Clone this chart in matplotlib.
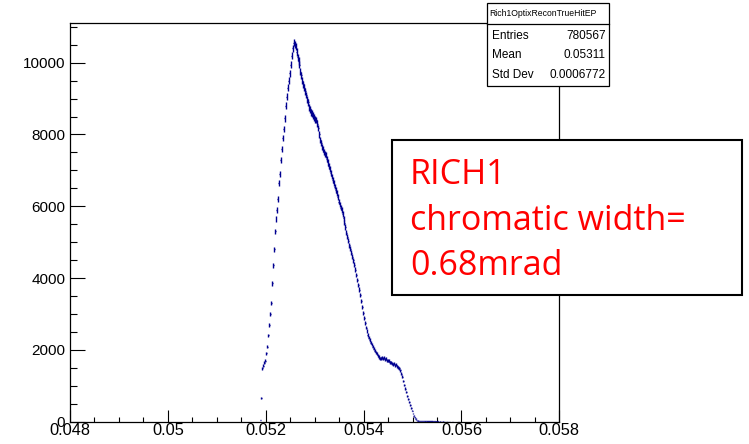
import numpy as np
import matplotlib
matplotlib.use("Agg")
import matplotlib.pyplot as plt
from matplotlib.ticker import MultipleLocator, FuncFormatter
from matplotlib.patches import Rectangle

plt.rcParams['font.family'] = ['Liberation Sans', 'DejaVu Sans']

# Histogram definition: 500 bins over the reconstructed Cherenkov angle range
x_min, x_max, n_bins = 0.048, 0.058, 500
first_bin = 194
counts = [
    40, 650, 1480, 1560, 1640, 1700, 1900, 2090, 2400, 2700,
    3000, 3300, 3850, 4350, 4800, 5300, 5650, 5900, 6200, 6650,
    6900, 7300, 7600, 7900, 8150, 8450, 8800, 9050, 9300, 9500,
    9700, 9950, 10200, 10400, 10560, 10500, 10450, 10300, 10150, 10050,
    9950, 9750, 9650, 9500, 9400, 9300, 9200, 9100, 8980, 8900,
    8760, 8700, 8620, 8580, 8530, 8480, 8420, 8400, 8300, 8180,
    8000, 7850, 7760, 7650, 7590, 7520, 7460, 7420, 7320, 7220,
    7130, 7030, 6930, 6830, 6730, 6640, 6550, 6450, 6360, 6250,
    6130, 6050, 5960, 5890, 5790, 5660, 5540, 5420, 5260, 5150,
    5040, 4920, 4810, 4700, 4600, 4500, 4370, 4230, 4080, 3950,
    3800, 3680, 3520, 3360, 3190, 3030, 2890, 2750, 2620, 2520,
    2420, 2340, 2270, 2200, 2150, 2090, 2030, 1980, 1930, 1900,
    1850, 1800, 1770, 1760, 1790, 1750, 1780, 1740, 1760, 1710,
    1700, 1690, 1660, 1650, 1640, 1620, 1600, 1610, 1570, 1580,
    1540, 1510, 1480, 1430, 1340, 1250, 1130, 1010, 920, 820,
    720, 640, 550, 460, 380, 300, 220, 160, 120, 80,
    50, 30, 15, 12, 9, 8, 7, 6, 5, 6,
    4, 5, 4, 3, 4, 3, 3, 2, 3, 2,
    2, 3, 2, 1, 2, 1, 1, 2, 1, 0,
    1, 1, 0, 1, 0, 0, 1, 0, 0, 0,
    0, 0, 1, 0,
]

hist_name = "Rich1OptixReconTrueHitEP"
stat_labels = ["Entries", "Mean", "Std Dev"]
stat_values = ["780567", "0.05311", "0.0006772"]
note_lines = ["RICH1", "chromatic width=", "0.68mrad"]

W, H = 749, 444
fig = plt.figure(figsize=(W / 100, H / 100), dpi=100)

ax_l, ax_r, ax_t, ax_b = 70, 559.3, 22.7, 421.6
ax = fig.add_axes([ax_l / W, 1 - ax_b / H, (ax_r - ax_l) / W, (ax_b - ax_t) / H])

edges = np.linspace(x_min, x_max, n_bins + 1)
bw = edges[1] - edges[0]
y = np.array(counts, dtype=float)
centres = edges[first_bin:first_bin + len(y)] + bw / 2
keep = y > 0
ax.errorbar(centres[keep], y[keep], yerr=np.sqrt(y[keep]), xerr=bw / 2,
            fmt='none', ecolor='#000090', elinewidth=1.0)

ax.set_xlim(x_min, x_max)
ax.set_ylim(0, 11115)

ax.xaxis.set_major_locator(MultipleLocator(0.002))
ax.xaxis.set_minor_locator(MultipleLocator(0.0005))
ax.yaxis.set_major_locator(MultipleLocator(2000))
ax.yaxis.set_minor_locator(MultipleLocator(500))
ax.xaxis.set_major_formatter(FuncFormatter(lambda v, p: "%g" % round(v, 6)))
ax.yaxis.set_major_formatter(FuncFormatter(lambda v, p: "%d" % round(v)))

ax.tick_params(axis='both', which='both', direction='in', top=False, right=False,
               width=0.8, colors='black')
ax.tick_params(axis='x', which='major', length=8.6, pad=1.2, labelsize=11.8)
ax.tick_params(axis='x', which='minor', length=3.7)
ax.tick_params(axis='y', which='major', length=10.6, pad=3.5, labelsize=11)
ax.tick_params(axis='y', which='minor', length=5.3)
for s in ax.spines.values():
    s.set_linewidth(0.9)
    s.set_color('black')

# Statistics box
def fx(px):
    return px / W

def fy(py):
    return 1 - py / H

sb_l, sb_r, sb_t, sb_b, sb_sep = 487, 609, 3, 86, 24
fig.add_artist(Rectangle((fx(sb_l), fy(sb_b)), fx(sb_r) - fx(sb_l), fy(sb_t) - fy(sb_b),
                         transform=fig.transFigure, facecolor='white',
                         edgecolor='black', linewidth=0.9, zorder=5))
fig.add_artist(plt.Line2D([fx(sb_l), fx(sb_r)], [fy(sb_sep), fy(sb_sep)],
                          transform=fig.transFigure, color='black', linewidth=0.9, zorder=6))
fig.text(fx(sb_l + 2.5), fy(13.5), hist_name, fontsize=6.2, va='center', ha='left', zorder=7)
row_y = [36, 55.5, 75.5]
for lab, val, ry in zip(stat_labels, stat_values, row_y):
    fig.text(fx(492), fy(ry), lab, fontsize=8.5, va='center', ha='left', zorder=7)
    fig.text(fx(606), fy(ry), val, fontsize=8.5, va='center', ha='right', zorder=7)

# Annotation box
nb_l, nb_r, nb_t, nb_b = 391.7, 741.7, 140, 295
fig.add_artist(Rectangle((fx(nb_l), fy(nb_b)), fx(nb_r) - fx(nb_l), fy(nb_t) - fy(nb_b),
                         transform=fig.transFigure, facecolor='white',
                         edgecolor='black', linewidth=1.5, zorder=5))
for line, base in zip(note_lines, [184, 230, 275]):
    fig.text(fx(410), fy(base), line, fontsize=24.5, color='#ff0000',
             family=['Open Sans', 'DejaVu Sans'],
             va='baseline', ha='left', zorder=7)

fig.savefig("out.png", dpi=100)
